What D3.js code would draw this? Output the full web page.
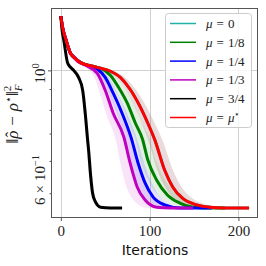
<html>
<head>
  <script src="https://d3js.org/d3.v7.min.js"></script>
  <style>
    body { margin: 0; background: #fff; }
  </style>
</head>
<body>
  <script>
    // values (iteration, error)
    let redIters  = [0, 2, 6, 11, 15, 22, 41, 56, 67, 78, 89, 98, 106, 117, 126, 137, 153, 168, 184, 212];
    let redVals   = [1.358, 1.274, 1.184, 1.100, 1.076, 1.046, 1.017, 0.995, 0.961, 0.899, 0.817, 0.742, 0.674, 0.569, 0.518, 0.486, 0.468, 0.462, 0.460, 0.460];
    let greenIters = [0, 2, 6, 11, 15, 22, 41, 45, 56, 65, 75, 84, 92, 98, 108, 120, 134, 149, 162, 185];
    let greenVals  = [1.358, 1.274, 1.184, 1.100, 1.076, 1.046, 1.017, 1.011, 0.972, 0.909, 0.830, 0.742, 0.678, 0.603, 0.538, 0.495, 0.473, 0.462, 0.460, 0.460];
    let blueIters = [0, 2, 6, 11, 15, 22, 34, 41, 50, 59, 69, 79, 87, 95, 104, 117, 134, 170];
    let blueVals  = [1.358, 1.274, 1.184, 1.100, 1.076, 1.046, 1.023, 1.008, 0.961, 0.879, 0.785, 0.686, 0.593, 0.529, 0.489, 0.468, 0.460, 0.460];
    let magIters = [0, 2, 6, 11, 15, 19, 28, 41, 50, 59, 71, 78, 86, 95, 108, 123, 149];
    let magVals  = [1.358, 1.274, 1.184, 1.100, 1.074, 1.052, 1.029, 0.983, 0.894, 0.785, 0.686, 0.593, 0.518, 0.481, 0.462, 0.460, 0.460];
    let blackIters = [0, 1.5, 3.4, 7.8, 14.5, 20, 24.6, 27.9, 30.2, 31.3, 33.5, 35.8, 39, 44.7, 56, 69];
    let blackVals  = [1.358, 1.25, 1.184, 1.040, 1.0, 0.961, 0.894, 0.768, 0.674, 0.637, 0.554, 0.500, 0.476, 0.462, 0.460, 0.460];

    let labels = ["0", "1/8", "1/4", "1/3", "3/4", "star"];
    let colors = ["#20b2aa", "green", "blue", "#bf00bf", "black", "red"];
    // shaded spread, as a fraction of the iteration count (left / right side)
    let bandLeft  = [0.07, 0.09, 0.09, 0.14, 0.06, 0.07];
    let bandRight = [0.08, 0.09, 0.08, 0.11, 0.06, 0.08];

    let xTicks = [0, 100, 200];
    let yMinor = [0.9, 0.8, 0.7, 0.6, 0.5];

    let iters = [redIters, greenIters, blueIters, magIters, blackIters, redIters];
    let vals = [redVals, greenVals, blueVals, magVals, blackVals, redVals];

    let series = labels.map(function(l, k) {
      return {
        label: l, color: colors[k], lo: bandLeft[k], hi: bandRight[k],
        pts: iters[k].map(function(it, j) { return {i: it, v: vals[k][j]}; })
      };
    });

    let width = 266, height = 266;
    let mLeft = 51.5, mRight = 257.5, mTop = 8.5, mBottom = 217.5;

    let svg = d3.select("body").append("svg")
      .attr("width", width)
      .attr("height", height)
      .attr("font-family", "Liberation Serif");

    let x = d3.scaleLinear().domain([-10.5, 221.5]).range([mLeft, mRight]);
    let y = d3.scaleLog().domain([Math.pow(10, -0.3606), Math.pow(10, 0.1516)]).range([mBottom, mTop]);

    svg.append("clipPath").attr("id", "clip")
      .append("rect").attr("x", mLeft).attr("y", mTop)
      .attr("width", mRight - mLeft).attr("height", mBottom - mTop);

    // grid
    let grid = svg.append("g").attr("stroke", "#d0d0d0").attr("stroke-width", 1);
    grid.selectAll("line.gx").data(xTicks).enter().append("line")
      .attr("x1", d => Math.round(x(d)) + 0.5).attr("x2", d => Math.round(x(d)) + 0.5)
      .attr("y1", mTop).attr("y2", mBottom);
    grid.append("line")
      .attr("x1", mLeft).attr("x2", mRight)
      .attr("y1", Math.round(y(1)) + 0.5).attr("y2", Math.round(y(1)) + 0.5);

    let plot = svg.append("g").attr("clip-path", "url(#clip)");

    // bands first
    plot.selectAll("path.band").data(series).enter().append("path")
      .attr("fill", d => d.color)
      .attr("fill-opacity", 0.11)
      .attr("stroke", "none")
      .attr("d", function(s) {
        let end = s.pts[s.pts.length - 1].i;
        return d3.area()
          .curve(d3.curveCatmullRom.alpha(0.5))
          .y(d => y(d.v))
          .x0(d => x(d.i * (1 - s.lo)))
          .x1(d => x(Math.min(d.i * (1 + s.hi), end)))(s.pts);
      });

    let line = d3.line()
      .curve(d3.curveMonotoneX)
      .x(d => x(d.i))
      .y(d => y(d.v));

    plot.selectAll("path.curve").data(series).enter().append("path")
      .attr("fill", "none")
      .attr("stroke", d => d.color)
      .attr("stroke-width", 3)
      .attr("stroke-linejoin", "round")
      .attr("d", d => line(d.pts));

    // frame
    svg.append("rect")
      .attr("x", mLeft).attr("y", mTop)
      .attr("width", mRight - mLeft).attr("height", mBottom - mTop)
      .attr("fill", "none").attr("stroke", "#555").attr("stroke-width", 1);

    // x axis
    let xAxis = svg.append("g")
      .attr("transform", "translate(0," + mBottom + ")")
      .call(d3.axisBottom(x).tickValues(xTicks).tickSize(3.5).tickPadding(4));
    xAxis.select(".domain").remove();
    xAxis.selectAll("line").attr("stroke", "#555");
    xAxis.selectAll("text").attr("font-size", 15).attr("fill", "#222")
      .attr("font-family", "Liberation Serif");

    // y axis ticks
    let yMaj = svg.append("g").attr("transform", "translate(" + mLeft + ",0)")
      .call(d3.axisLeft(y).tickValues([1]).tickSize(3.5).tickFormat(""));
    yMaj.select(".domain").remove();
    yMaj.selectAll("line").attr("stroke", "#555");
    let yMin = svg.append("g").attr("transform", "translate(" + mLeft + ",0)")
      .call(d3.axisLeft(y).tickValues(yMinor).tickSize(2).tickFormat(""));
    yMin.select(".domain").remove();
    yMin.selectAll("line").attr("stroke", "#555");

    // rotated y tick labels
    let l1 = svg.append("text")
      .attr("transform", "translate(45," + (y(1) - 7) + ") rotate(-90)")
      .attr("text-anchor", "end").attr("font-size", 15).attr("fill", "#222");
    l1.append("tspan").text("10");
    l1.append("tspan").attr("font-size", 10.5).attr("dy", -6).text("0");

    let l2 = svg.append("text")
      .attr("transform", "translate(45," + (y(0.6) - 6) + ") rotate(-90)")
      .attr("text-anchor", "end").attr("font-size", 15).attr("fill", "#222");
    l2.append("tspan").text("6");
    l2.append("tspan").attr("dx", 4).text("×");
    l2.append("tspan").attr("dx", 4).text("10");
    l2.append("tspan").attr("font-size", 10.5).attr("dy", -6).text("−1");

    // y label
    let yl = svg.append("text")
      .attr("transform", "translate(18,114) rotate(-90)")
      .attr("text-anchor", "middle").attr("font-size", 17).attr("fill", "#222");
    yl.append("tspan").text("‖");
    yl.append("tspan").attr("font-style", "italic").text("ρ");
    yl.append("tspan").attr("dx", -7).attr("dy", -1).text("ˆ");
    yl.append("tspan").attr("dx", 6).attr("dy", 1).text("−");
    yl.append("tspan").attr("dx", 5).attr("font-style", "italic").text("ρ");
    yl.append("tspan").attr("font-size", 11).attr("dy", -6).text("⋆");
    yl.append("tspan").attr("dy", 6).text("‖");
    yl.append("tspan").attr("font-size", 11).attr("dy", -7).text("2");
    yl.append("tspan").attr("font-size", 11).attr("font-style", "italic").attr("dx", -5.5).attr("dy", 11).text("F");

    // x label
    svg.append("text")
      .attr("x", 155).attr("y", 255)
      .attr("text-anchor", "middle")
      .attr("font-family", "DejaVu Sans").attr("font-size", 14).attr("fill", "#111")
      .text("Iterations");

    // legend
    let lg = svg.append("g");
    lg.append("rect")
      .attr("x", 165.5).attr("y", 13.5).attr("width", 86).attr("height", 114).attr("rx", 3)
      .attr("fill", "white").attr("fill-opacity", 0.8).attr("stroke", "#ccc");
    let rows = lg.selectAll("g.row").data(series).enter().append("g")
      .attr("transform", (d, k) => "translate(0," + (23.5 + k * 18.8) + ")");
    rows.append("line")
      .attr("x1", 170).attr("x2", 196)
      .attr("stroke", d => d.color).attr("stroke-width", 1.5);
    let lt = rows.append("text")
      .attr("x", 206).attr("y", 4.5)
      .attr("font-size", 13).attr("fill", "#222");
    lt.append("tspan").attr("font-style", "italic").text("μ");
    lt.append("tspan").attr("dx", 4).text("=");
    lt.each(function(d) {
      let t = d3.select(this);
      if (d.label == "star") {
        t.append("tspan").attr("dx", 4).attr("font-style", "italic").text("μ");
        t.append("tspan").attr("font-size", 9).attr("dy", -5).text("⋆");
      } else {
        t.append("tspan").attr("dx", 4).text(d.label);
      }
    });
  </script>
</body>
</html>
